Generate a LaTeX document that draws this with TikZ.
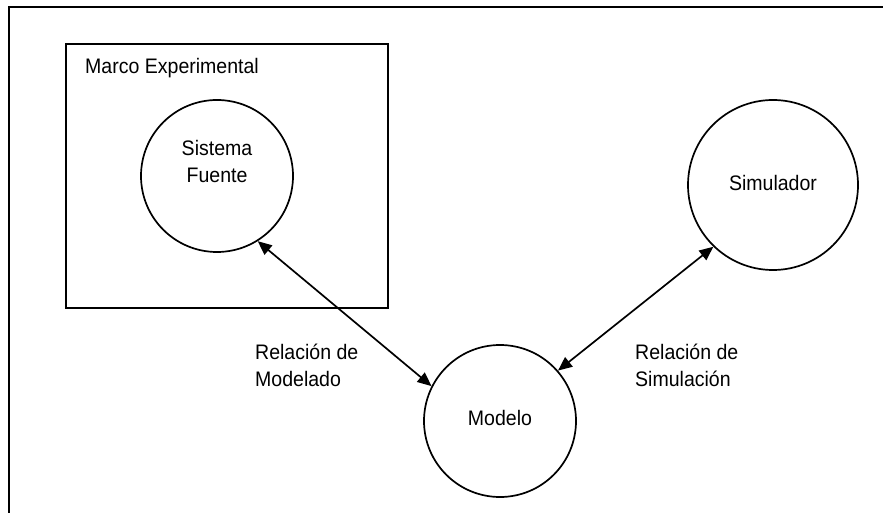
\documentclass[tikz,border=0pt]{standalone}
\usepackage{fontspec}
\setmainfont{Liberation Sans}[FakeStretch=0.93]
\usetikzlibrary{arrows.meta}
\begin{document}
\begin{tikzpicture}[x=1bp,y=-1bp,
  every node/.style={font=\fontsize{21bp}{27bp}\selectfont},
  ring/.style={draw, circle, line width=1.7bp, inner sep=0pt},
  frame/.style={draw, line width=1.7bp, inner sep=0pt},
  txt/.style={inner sep=0pt, align=center},
  lbl/.style={inner sep=0pt, align=left, anchor=west},
  >={Triangle[length=14bp,width=12bp]},
  link/.style={line width=1.7bp, <->}]
\useasboundingbox (0,0) rectangle (883,513);
% outer page frame (open to the right and bottom)
\draw[line width=2bp] (9,513) -- (9,7) -- (883,7);
% experimental frame
\node[frame, minimum width=322bp, minimum height=264bp, anchor=north west] (marco) at (65,43) {};
\node[inner sep=0pt, anchor=west] (marcotxt) at (85,68) {Marco Experimental};
% systems
\node[ring, minimum size=152bp] (fuente) at (217,176) {};
\node[txt] (fuentetxt) at (217,161) {Sistema\\Fuente};
\node[ring, minimum size=152bp] (modelo) at (500,421) {};
\node[txt] (modelotxt) at (500,418) {Modelo};
\node[ring, minimum size=170bp] (simulador) at (773,185) {};
\node[txt] (simuladortxt) at (773,183) {Simulador};
% relations
\draw[link] (fuente.-58) -- (modelo.153);
\draw[link] (simulador.226) -- (modelo.41);
\node[lbl] (relmod) at (255,365) {Relación de\\Modelado};
\node[lbl] (relsim) at (635,365) {Relación de\\Simulación};
\end{tikzpicture}
\end{document}
